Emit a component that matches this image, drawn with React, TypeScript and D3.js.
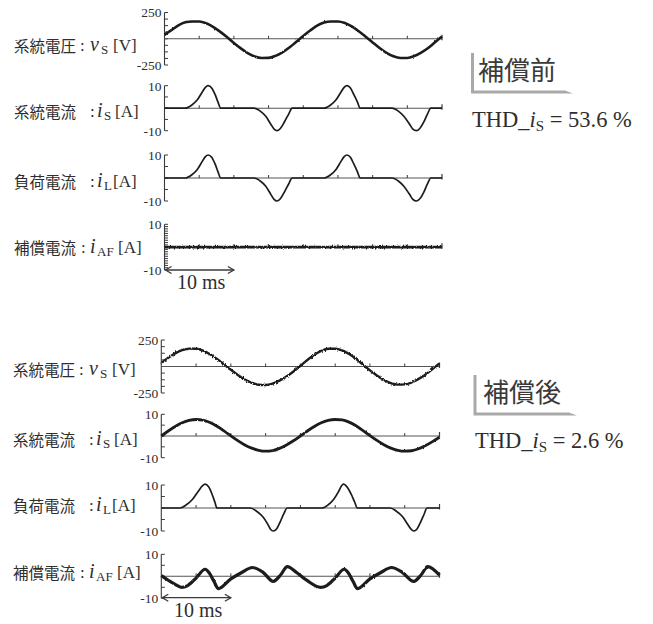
import React from "react";
import * as d3 from "d3";

type Pt = [number, number];

// ---- time base (ms) ----
const timeTicksMs = [0, 5, 10, 15, 20, 25, 30, 35, 40];
const scaleBarMs = 10;
const sineTimesMs = [
  0, 1, 2, 3, 4, 5, 6, 7, 8, 9, 10, 11, 12, 13, 14, 15, 16, 17, 18, 19, 20,
  21, 22, 23, 24, 25, 26, 27, 28, 29, 30, 31, 32, 33, 34, 35, 36, 37, 38, 39, 40,
];

// ---- axis limits ----
const voltageLimit = 250;
const currentLimit = 10;

// ---- before compensation ----
const vsBefore = [
  37, 82, 127, 156, 165, 164, 147, 113, 68, 16,
  -40, -92, -137, -169, -183, -182, -163, -129, -84, -28,
  27, 78, 124, 154, 165, 165, 150, 117, 72, 20,
  -35, -88, -134, -167, -183, -183, -165, -132, -88, -33,
  22,
];
const isBefore: Pt[] = [
  [0, 0], [3.0, 0], [3.9, 1.3], [4.7, 3.6], [5.4, 7.0], [5.9, 9.3], [6.3, 10], [6.8, 9.0], [7.3, 6.0], [7.7, 2.8], [8.1, 0],
  [12.9, 0], [13.8, -1.3], [14.6, -3.6], [15.3, -7.0], [15.8, -9.3], [16.2, -10], [16.7, -9.0], [17.3, -6.0], [17.9, -2.6], [18.4, 0],
  [23.0, 0], [23.9, 1.3], [24.7, 3.6], [25.4, 7.0], [25.9, 9.3], [26.3, 10], [26.8, 9.0], [27.3, 6.0], [27.8, 2.8], [28.2, 0],
  [32.8, 0], [33.7, -1.3], [34.5, -3.6], [35.3, -7.0], [35.8, -9.3], [36.3, -10], [36.8, -9.0], [37.4, -6.0], [37.9, -2.6], [38.4, 0],
  [40, 0],
];
const ilBefore: Pt[] = [
  [0, 0], [3.0, 0], [3.9, 1.3], [4.7, 3.6], [5.4, 7.0], [5.9, 9.3], [6.3, 10], [6.8, 9.0], [7.3, 6.0], [7.7, 2.8], [8.1, 0],
  [12.9, 0], [13.8, -1.3], [14.6, -3.6], [15.3, -7.0], [15.8, -9.3], [16.2, -10], [16.7, -9.0], [17.3, -6.0], [17.9, -2.6], [18.4, 0],
  [23.0, 0], [23.9, 1.3], [24.7, 3.6], [25.4, 7.0], [25.9, 9.3], [26.3, 10], [26.8, 9.0], [27.3, 6.0], [27.8, 2.8], [28.2, 0],
  [32.8, 0], [33.7, -1.3], [34.5, -3.6], [35.3, -7.0], [35.8, -9.3], [36.3, -10], [36.8, -9.0], [37.4, -6.0], [37.9, -2.6], [38.4, 0],
  [40, 0],
];
const iafBefore: Pt[] = [[0, 0], [10, 0], [20, 0], [30, 0], [40, 0]];

// ---- after compensation ----
const vsAfter = [
  32, 82, 124, 154, 169, 167, 149, 116, 72, 21,
  -31, -80, -123, -154, -172, -174, -161, -133, -95, -47,
  6, 61, 110, 147, 167, 168, 152, 118, 72, 17,
  -37, -85, -127, -157, -171, -169, -151, -117, -75, -24,
  29,
];
const isAfter = [
  0, 2.3, 4.4, 6.1, 7.2, 7.6, 7.3, 6.2, 4.5, 2.4,
  0.1, -2.1, -4.1, -5.6, -6.6, -7.0, -6.7, -5.7, -4.1, -2.2,
  0, 2.3, 4.4, 6.1, 7.2, 7.6, 7.4, 6.4, 4.7, 2.5,
  0.2, -2.0, -4.0, -5.6, -6.6, -7.0, -6.8, -5.9, -4.4, -2.6,
  -0.6,
];
const ilAfter: Pt[] = [
  [0, 0], [2.7, 0], [3.6, 1.4], [4.5, 3.8], [5.3, 7.2], [5.9, 9.6], [6.3, 10.4], [6.8, 9.2], [7.3, 6.0], [7.7, 2.6], [8.0, 0],
  [12.8, 0], [13.7, -1.4], [14.6, -3.8], [15.3, -7.0], [15.7, -9.2], [16.1, -10], [16.6, -9.0], [17.1, -6.0], [17.6, -2.6], [18.1, 0],
  [23.1, 0], [24.0, 1.4], [24.8, 3.8], [25.5, 7.2], [25.9, 9.6], [26.2, 10.4], [26.7, 9.2], [27.3, 6.0], [27.8, 2.6], [28.2, 0],
  [32.9, 0], [33.8, -1.4], [34.7, -3.8], [35.4, -7.0], [35.9, -9.2], [36.3, -10], [36.8, -9.0], [37.3, -6.0], [37.8, -2.6], [38.2, 0],
  [40, 0],
];
const iafAfter: Pt[] = [
  [0, 0.3], [1, -1.8], [2, -3.7], [2.9, -5.0], [3.8, -4.2], [5, -0.8], [6.3, 3.2], [6.9, 1.5], [7.6, -2.5], [8.2, -5.6],
  [10, -1.2], [11.5, 1.6], [13.1, 4.0], [14.6, 1.9], [16.1, -2.3], [17.2, 0.8], [18.1, 4.4], [19.5, 1.6], [21, -2.0], [22.9, -5.0],
  [23.8, -4.2], [25, -0.8], [26.3, 3.2], [26.9, 1.5], [27.6, -2.5], [28.2, -5.6], [30, -1.2], [31.5, 1.6], [33.1, 4.0], [34.6, 1.9],
  [36.3, -2.3], [37.4, 0.8], [38.3, 4.4], [40, 0.5],
];

// ---- labels ----
const rowNames = ["系統電圧", "系統電流", "負荷電流", "補償電流"];
const rowSymbols = ["v", "i", "i", "i"];
const rowSubscripts = ["S", "S", "L", "AF"];
const rowUnits = ["[V]", "[A]", "[A]", "[A]"];
const conditionTitles = ["補償前", "補償後"];
const thdValues = ["53.6", "2.6"];

const zip = (ts: number[], vs: number[]): Pt[] => ts.map((t, i) => [t, vs[i]]);

const SERIF = "'Liberation Serif', 'DejaVu Serif', serif";
const CJK = "'Noto Sans CJK JP', 'Noto Sans CJK SC', sans-serif";
const AXIS = "#3a3a3a";
const TRACE = "#1c1c1c";
const TEXT = "#2e2e2e";

// horizontal offsets of the label pieces (colon, symbol, subscript, unit) per row
const labelOffsets = [
  [66, 76, 87, 99],
  [76, 83, 90, 101],
  [76, 83, 90, 99],
  [67, 76, 83, 104],
];

interface PanelSpec {
  top: number;
  bottom: number;
  limit: number;
  steps: number;
  data: Pt[];
  width: number;
  noisy?: string;
}

function Panel({ x0, x1, spec }: { x0: number; x1: number; spec: PanelSpec }) {
  const x = d3.scaleLinear().domain([0, 40]).range([x0, x1]);
  const y = d3.scaleLinear().domain([-spec.limit, spec.limit]).range([spec.bottom, spec.top]);
  const line = d3
    .line<Pt>()
    .x((d) => x(d[0]))
    .y((d) => y(d[1]))
    .curve(d3.curveMonotoneX);
  const zy = y(0);
  const minor = d3.range(spec.steps + 1).map((i) => -spec.limit + (2 * spec.limit * i) / spec.steps);
  return (
    <g>
      <line x1={x0} x2={x0} y1={spec.top} y2={spec.bottom} stroke={AXIS} strokeWidth={1.1} />
      {minor.map((v, i) => (
        <line key={i} x1={x0} x2={x0 + 3.5} y1={y(v)} y2={y(v)} stroke={AXIS} strokeWidth={1} />
      ))}
      <text x={x0 - 3} y={y(spec.limit)} dy="0.36em" textAnchor="end" fontFamily={SERIF} fontSize={13.5} fill={TEXT}>
        {`${spec.limit}`}
      </text>
      <text x={x0 - 3} y={y(-spec.limit)} dy="0.36em" textAnchor="end" fontFamily={SERIF} fontSize={13.5} fill={TEXT}>
        {`${-spec.limit}`}
      </text>
      <line x1={x0} x2={x(40)} y1={zy} y2={zy} stroke="#555" strokeWidth={1.1} />
      {timeTicksMs.slice(1, -1).map((t) => (
        <line key={t} x1={x(t)} x2={x(t)} y1={zy} y2={zy - 3} stroke={AXIS} strokeWidth={1} />
      ))}
      <line x1={x(40)} x2={x(40)} y1={zy - 4} y2={zy + 1.5} stroke={AXIS} strokeWidth={1.2} />
      <path
        d={line(spec.data) || ""}
        fill="none"
        stroke={TRACE}
        strokeWidth={spec.width}
        strokeLinejoin="round"
        filter={spec.noisy ? `url(#${spec.noisy})` : undefined}
      />
    </g>
  );
}

function RowLabel({ idx, x, y }: { idx: number; x: number; y: number }) {
  const [cx, sx, bx, ux] = labelOffsets[idx];
  return (
    <g fill={TEXT}>
      <text x={x} y={y} fontFamily={CJK} fontSize={15.5}>
        {rowNames[idx]}
      </text>
      <text x={x + cx} y={y - 1} fontFamily={SERIF} fontSize={17}>
        :
      </text>
      <text x={x + sx} y={y - 1} fontFamily={SERIF} fontStyle="italic" fontSize={20}>
        {rowSymbols[idx]}
      </text>
      <text x={x + bx} y={y + 2.5} fontFamily={SERIF} fontSize={13}>
        {rowSubscripts[idx]}
      </text>
      <text x={x + ux} y={y - 1} fontFamily={SERIF} fontSize={17}>
        {rowUnits[idx]}
      </text>
    </g>
  );
}

function ScaleBar({ x0, x1, y, textY }: { x0: number; x1: number; y: number; textY: number }) {
  const x = d3.scaleLinear().domain([0, 40]).range([x0, x1]);
  const a = x(0) + 1;
  const b = x(scaleBarMs);
  return (
    <g>
      <line x1={a} x2={b} y1={y} y2={y} stroke={AXIS} strokeWidth={1.3} />
      <path d={`M${a + 6},${y - 3.5} L${a},${y} L${a + 6},${y + 3.5}`} fill="none" stroke={AXIS} strokeWidth={1.3} />
      <path d={`M${b - 6},${y - 3.5} L${b},${y} L${b - 6},${y + 3.5}`} fill="none" stroke={AXIS} strokeWidth={1.3} />
      <text x={(a + b) / 2 + 1.5} y={textY} textAnchor="middle" fontFamily={SERIF} fontSize={20} fill={TEXT}>
        {`${scaleBarMs} ms`}
      </text>
    </g>
  );
}

function Condition({ idx, bx, by0, by1, bxEnd, tx, ty, thx, thy }: {
  idx: number; bx: number; by0: number; by1: number; bxEnd: number; tx: number; ty: number; thx: number; thy: number;
}) {
  const pts = [
    [bx, by0], [bx + 3, by0], [bx + 3, by1 - 3], [bxEnd - 8, by1 - 3], [bxEnd, by1], [bx, by1],
  ].map((p) => p.join(",")).join(" ");
  return (
    <g>
      <polygon points={pts} fill="#a9a9a9" />
      <text x={tx} y={ty} fontFamily={CJK} fontSize={26} fill="#3a3a3a">
        {conditionTitles[idx]}
      </text>
      <text x={thx} y={thy} fontFamily={SERIF} fontSize={22.5} fill={TEXT}>
        THD_
        <tspan fontStyle="italic">i</tspan>
        <tspan fontSize={15} dy={4}>S</tspan>
        <tspan dy={-4}>{` = ${thdValues[idx]} %`}</tspan>
      </text>
    </g>
  );
}

export default function App() {
  const beforePanels: PanelSpec[] = [
    { top: 12.5, bottom: 65, limit: voltageLimit, steps: 8, data: zip(sineTimesMs, vsBefore), width: 2.6, noisy: "noiseA" },
    { top: 85.7, bottom: 130.7, limit: currentLimit, steps: 4, data: isBefore, width: 1.7 },
    { top: 155, bottom: 201, limit: currentLimit, steps: 4, data: ilBefore, width: 1.7 },
    { top: 224.3, bottom: 270, limit: currentLimit, steps: 20, data: iafBefore, width: 2.6, noisy: "noiseB" },
  ];
  const afterPanels: PanelSpec[] = [
    { top: 340, bottom: 393, limit: voltageLimit, steps: 8, data: zip(sineTimesMs, vsAfter), width: 2.4, noisy: "noiseB" },
    { top: 414.3, bottom: 457.7, limit: currentLimit, steps: 4, data: zip(sineTimesMs, isAfter), width: 2.8, noisy: "noiseA" },
    { top: 485, bottom: 531, limit: currentLimit, steps: 4, data: ilAfter, width: 1.7 },
    { top: 554.3, bottom: 598.3, limit: currentLimit, steps: 4, data: iafAfter, width: 3.2, noisy: "noiseA" },
  ];
  const beforeRows = [51.5, 117.5, 187.5, 253.5];
  const afterRows = [375.5, 445.5, 511.5, 578.5];

  return (
    <svg
      width={653}
      height={624}
      viewBox="0 0 653 624"
      style={{ position: "absolute", left: 0, top: 0, background: "#fff" }}
    >
      <defs>
        <filter id="noiseA" filterUnits="userSpaceOnUse" x={0} y={0} width={653} height={624}>
          <feTurbulence type="fractalNoise" baseFrequency="0.9 0.3" numOctaves={1} seed={4} result="n" />
          <feDisplacementMap in="SourceGraphic" in2="n" scale={2.2} xChannelSelector="R" yChannelSelector="G" />
        </filter>
        <filter id="noiseB" filterUnits="userSpaceOnUse" x={0} y={0} width={653} height={624}>
          <feTurbulence type="fractalNoise" baseFrequency="1.1 0.4" numOctaves={2} seed={9} result="n" />
          <feDisplacementMap in="SourceGraphic" in2="n" scale={3} xChannelSelector="R" yChannelSelector="G" />
        </filter>
      </defs>
      <rect x={0} y={0} width={653} height={624} fill="#fff" />

      {beforePanels.map((p, i) => (
        <Panel key={`b${i}`} x0={164.5} x1={442} spec={p} />
      ))}
      {beforeRows.map((y, i) => (
        <RowLabel key={`bl${i}`} idx={i} x={14} y={y} />
      ))}
      <ScaleBar x0={164.5} x1={442} y={270} textY={289} />
      <Condition idx={0} bx={471} by0={53} by1={93.5} bxEnd={573} tx={478} ty={80} thx={472} thy={127} />

      {afterPanels.map((p, i) => (
        <Panel key={`a${i}`} x0={161.3} x1={439.5} spec={p} />
      ))}
      {afterRows.map((y, i) => (
        <RowLabel key={`al${i}`} idx={i} x={13} y={y} />
      ))}
      <ScaleBar x0={161.3} x1={439.5} y={597.7} textY={617} />
      <Condition idx={1} bx={473.5} by0={375} by1={415.5} bxEnd={577} tx={483} ty={402} thx={475} thy={448} />
    </svg>
  );
}
